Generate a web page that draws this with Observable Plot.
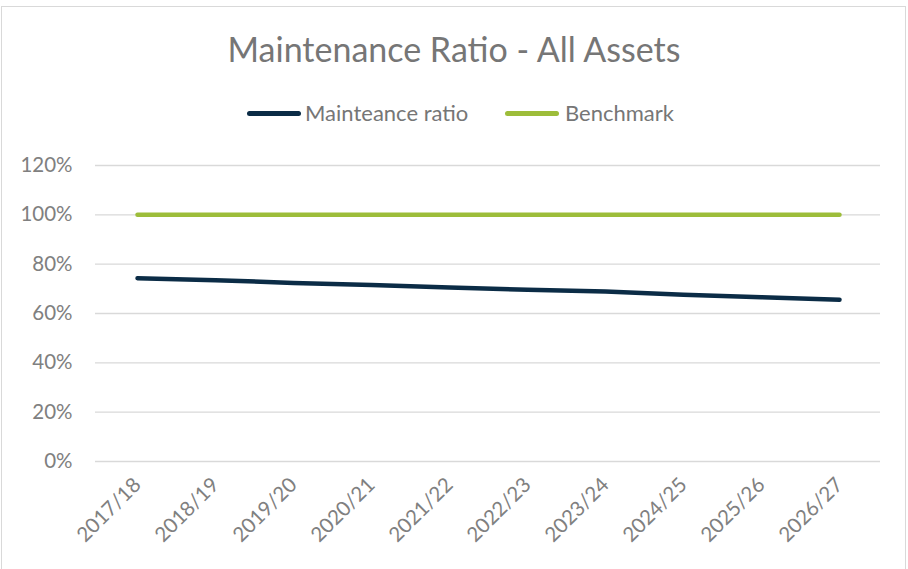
<!DOCTYPE html>
<html><head><meta charset="utf-8">
<script src="https://cdn.jsdelivr.net/npm/d3@7"></script>
<script src="https://cdn.jsdelivr.net/npm/@observablehq/plot@0.6"></script>
<style>
body{margin:0;background:#fff;font-family:Lato,"Noto Sans",sans-serif;}
#frame{position:relative;width:908px;height:569px;overflow:hidden;background:#fff}
#border{position:absolute;left:1px;top:6px;width:905px;height:600px;border:1px solid #d9d9d9;box-sizing:border-box}
#title{position:absolute;top:29px;left:0;width:908px;text-align:center;font-size:34px;color:#767676;line-height:40px}
.leg{position:absolute;top:99px;font-size:22px;color:#767676;line-height:28px;white-space:nowrap}
.sw{position:absolute;height:5px;border-radius:3px;top:111px}
#chart{position:absolute;left:0;top:140px}
</style></head>
<body>
<div id="frame">
  <div id="border"></div>
  <div id="title">Maintenance Ratio - All Assets</div>
  <div id="chart"></div>
</div>
<script>
const years = ["2017/18","2018/19","2019/20","2020/21","2021/22","2022/23","2023/24","2024/25","2025/26","2026/27"];
const maintenanceRatio = [74.3, 73.5, 72.4, 71.6, 70.5, 69.6, 68.9, 67.6, 66.6, 65.6];
const benchmark = [100, 100, 100, 100, 100, 100, 100, 100, 100, 100];
const yTicks = [0, 20, 40, 60, 80, 100, 120];
const seriesNames = ["Mainteance ratio", "Benchmark"];
const seriesColors = ["#0b2c46", "#9dbd3a"];

const rows = [];
years.forEach((y, i) => {
  rows.push({year: y, value: maintenanceRatio[i], series: seriesNames[0]});
  rows.push({year: y, value: benchmark[i], series: seriesNames[1]});
});

const chart = Plot.plot({
  width: 908,
  height: 429,
  marginTop: 25,
  marginBottom: 108,
  marginLeft: 95,
  marginRight: 28,
  style: {fontFamily: "Lato, 'Noto Sans', sans-serif", fontSize: "20.5px", color: "#7f7f7f", background: "transparent"},
  x: {type: "point", domain: years, padding: 0.5, label: null},
  y: {domain: [0, 120], label: null},
  color: {domain: seriesNames, range: seriesColors},
  marks: [
    Plot.gridY(yTicks, {stroke: "#d9d9d9", strokeOpacity: 1, strokeWidth: 1.3}),
    Plot.axisY(yTicks, {tickSize: 0, tickPadding: 23, tickFormat: d => d + "%", fill: "#808080", label: null}),
    Plot.axisX({tickSize: 0, tickPadding: 20, tickRotate: -45, fill: "#808080", label: null}),
    Plot.line(rows, {x: "year", y: "value", z: "series", stroke: "series", strokeWidth: 4.5, strokeLinecap: "round", strokeLinejoin: "round"})
  ]
});
document.getElementById("chart").appendChild(chart);

// legend
const frame = document.getElementById("frame");
const legPos = [{sx: 247, tx: 305}, {sx: 505, tx: 565}];
seriesNames.forEach((n, i) => {
  const sw = document.createElement("div");
  sw.className = "sw";
  sw.style.left = legPos[i].sx + "px";
  sw.style.width = "54px";
  sw.style.background = seriesColors[i];
  frame.appendChild(sw);
  const t = document.createElement("div");
  t.className = "leg";
  t.style.left = legPos[i].tx + "px";
  t.textContent = n;
  frame.appendChild(t);
});
</script>
</body></html>
